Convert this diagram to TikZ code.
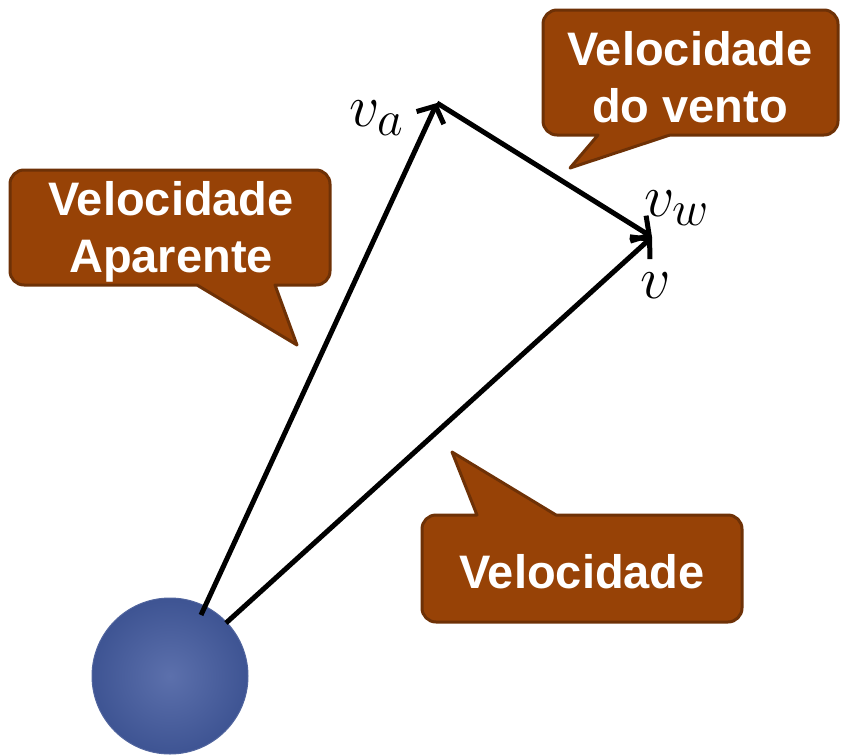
\documentclass[tikz,border=0pt]{standalone}
\usepackage{fontspec}
\setmainfont{Liberation Sans}
\usepackage{tikz}
\usetikzlibrary{arrows.meta}
\definecolor{marrom}{HTML}{974206}
\definecolor{marromescuro}{HTML}{6E3106}
\definecolor{azul}{HTML}{3E5493}
\definecolor{azulclaro}{HTML}{5C70AC}
\tikzset{
  balao/.style={draw=marromescuro, fill=marrom, line width=3pt, line join=round},
  texto/.style={text=white, font=\fontsize{47}{57}\selectfont\bfseries, align=center},
  vetor/.style={line width=5pt, -{Straight Barb[length=13pt,width=30pt,line width=5pt]}},
  rotulo/.style={font=\Huge, scale=2.4, transform shape}
}
\begin{document}
\begin{tikzpicture}[x=1pt, y=-1pt]
        \useasboundingbox (0,0) rectangle (843,755);
        % Palla
        \node[circle, minimum size=156pt, inner sep=0pt, draw=azul!90!white, line width=1pt,
          shading=radial, inner color=azulclaro, outer color=azul] (palla) at (170,676) {};
        % Punti dei vettori
        \coordinate (inizioa) at (201,615);
        \coordinate (iniziov) at (226,623);
        \coordinate (va) at (437,103);
        \coordinate (vw) at (652,237);
        % Vettori
        \draw[vetor] (inizioa) -- (va);
        \draw[vetor] (va) -- (vw);
        \draw[vetor] (iniziov) -- (vw);
        \node[rotulo] (la) at (377,118) {$v_a$};
        \node[rotulo] (lw) at (677,208) {$v_w$};
        \node[rotulo] (lv) at (656,286) {$v$};
        % Balao: velocidade aparente
        \draw[balao] (197,285) -- (297,345) -- (275,285) [rounded corners=14pt]
          -- (330,285) -- (330,170) -- (10,170) -- (10,285) [sharp corners] -- cycle;
        \node[texto] (aparente) at (171,232) {Velocidade\\Aparente};
        % Balao: velocidade do vento
        \draw[balao] (670,135) -- (570,168) -- (598,135) [rounded corners=14pt]
          -- (543,135) -- (543,10) -- (838,10) -- (838,135) [sharp corners] -- cycle;
        \node[texto] (vento) at (690,77) {Velocidade\\do vento};
        % Balao: velocidade
        \draw[balao] (477,515) -- (452,452) -- (556,515) [rounded corners=14pt]
          -- (742,515) -- (742,622) -- (422,622) -- (422,515) [sharp corners] -- cycle;
        \node[texto] (velocidade) at (582,572) {Velocidade};
    \end{tikzpicture}
\end{document}
